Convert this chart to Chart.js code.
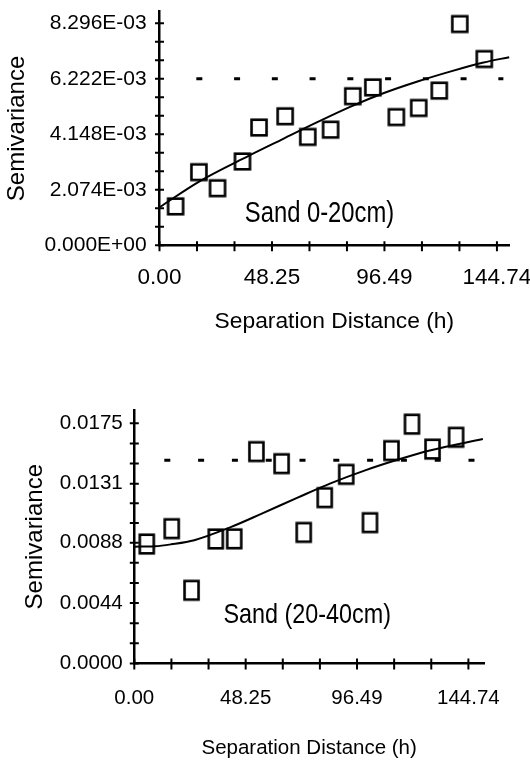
<!DOCTYPE html>
<html>
<head>
<meta charset="utf-8">
<script src="https://cdn.jsdelivr.net/npm/chart.js@4.4.1/dist/chart.umd.min.js"></script>
<style>
html, body { margin: 0; padding: 0; background: #fff; }
body { width: 530px; height: 762px; position: relative; overflow: hidden; }
canvas { position: absolute; left: 0; }
#top { top: 0; }
#bottom { top: 382px; }
</style>
</head>
<body>
<canvas id="top" width="530" height="345"></canvas>
<canvas id="bottom" width="530" height="380"></canvas>
<script>
// separation distance ticks, shared by both plots
const xTicks = [0, 48.25, 96.49, 144.74];
const xLabels = ['0.00', '48.25', '96.49', '144.74'];

// Sand 0-20cm: experimental semivariogram + fitted model + sill
const topLags = [6.9, 16.9, 24.9, 35.6, 42.7, 53.9, 63.6, 73.4, 82.9, 91.5, 101.6, 111.2, 120.0, 128.8, 139.3];
const topGamma = [0.00145, 0.00273, 0.00213, 0.00313, 0.00440, 0.00482, 0.00405, 0.00432, 0.00557, 0.00590, 0.00479, 0.00513, 0.00578, 0.00827, 0.00696];
const topModelX = [0, 17, 38, 52, 67, 82, 96, 111, 125, 139, 150];
const topModelY = [0.00142, 0.00238, 0.00333, 0.00393, 0.00457, 0.00518, 0.00568, 0.00613, 0.00650, 0.00683, 0.00703];
const topSill = [0.006222, 0.006222];
const topSillX = [15.8, 147.5];
const topYTicks = [0, 0.002074, 0.004148, 0.006222, 0.008296];
const topYLabels = ['0.000E+00', '2.074E-03', '4.148E-03', '6.222E-03', '8.296E-03'];

// Sand 20-40cm
const botLags = [5.4, 16.2, 24.8, 35.3, 43.3, 52.9, 63.8, 73.4, 82.5, 91.8, 102.1, 111.4, 120.3, 129.2, 139.4];
const botGamma = [0.00870, 0.00982, 0.00533, 0.00907, 0.00908, 0.01544, 0.01456, 0.00955, 0.01208, 0.01378, 0.01026, 0.01551, 0.01744, 0.01562, 0.01648];
const botModelX = [0, 9, 16, 26, 42, 55, 71, 85, 100, 114, 128, 151];
const botModelY = [0.00851, 0.00854, 0.00868, 0.00898, 0.00995, 0.01090, 0.01210, 0.01312, 0.01407, 0.01484, 0.01552, 0.01635];
const botSill = [0.0148, 0.0148];
const botSillX = [13.0, 148.0];
const botYTicks = [0, 0.0044, 0.0088, 0.0131, 0.0175];
const botYLabels = ['0.0000', '0.0044', '0.0088', '0.0131', '0.0175'];

const ink = '#000';
const sans = "'Liberation Sans', Arial, sans-serif";

// majors plus two minor ticks in each gap
function withMinor(majors) {
  const out = [];
  for (let i = 0; i < majors.length; i++) {
    out.push(majors[i]);
    if (i < majors.length - 1) {
      const step = (majors[i + 1] - majors[i]) / 3;
      out.push(majors[i] + step, majors[i] + 2 * step);
    }
  }
  return out;
}

function pick(values, labels) {
  return v => {
    const i = values.findIndex(t => Math.abs(t - v) < 1e-9);
    return i < 0 ? '' : labels[i];
  };
}

// open box marker
function box(w, h, lw) {
  const c = document.createElement('canvas');
  c.width = Math.ceil(w + lw + 2);
  c.height = Math.ceil(h + lw + 2);
  const g = c.getContext('2d');
  g.lineWidth = lw;
  g.strokeStyle = ink;
  g.strokeRect((c.width - w) / 2, (c.height - h) / 2, w, h);
  return c;
}

// tick marks that cross the axis line
const crossTicks = {
  id: 'crossTicks',
  afterDraw(chart, args, opts) {
    const ctx = chart.ctx;
    const xs = chart.scales.x, ys = chart.scales.y;
    const area = chart.chartArea;
    ctx.save();
    ctx.strokeStyle = ink;
    ctx.lineWidth = 2;
    ctx.beginPath();
    xs.ticks.forEach(t => {
      const p = xs.getPixelForValue(t.value);
      ctx.moveTo(p, area.bottom - opts.x[0]);
      ctx.lineTo(p, area.bottom + opts.x[1]);
    });
    ys.ticks.forEach(t => {
      const p = ys.getPixelForValue(t.value);
      ctx.moveTo(area.left - opts.y, p);
      ctx.lineTo(area.left + opts.y, p);
    });
    ctx.stroke();
    ctx.restore();
  }
};

// the sample label inside the plot, squeezed like a narrow face
const note = {
  id: 'note',
  afterDraw(chart, args, opts) {
    const ctx = chart.ctx;
    ctx.save();
    ctx.fillStyle = ink;
    ctx.font = opts.size + 'px ' + sans;
    ctx.textBaseline = 'alphabetic';
    ctx.textAlign = 'left';
    ctx.translate(chart.scales.x.getPixelForValue(opts.x), chart.scales.y.getPixelForValue(opts.y));
    ctx.scale(0.82, 1);
    ctx.fillText(opts.text, 0, 0);
    ctx.restore();
  }
};

function makeChart(id, o) {
  new Chart(document.getElementById(id), {
    type: 'scatter',
    data: {
      datasets: [{
        data: o.lags.map((x, i) => ({ x: x, y: o.gamma[i] })),
        pointStyle: box(o.box[0], o.box[1], 2.6),
        pointRadius: 10,
        showLine: false
      }, {
        data: o.modelX.map((x, i) => ({ x: x, y: o.modelY[i] })),
        showLine: true,
        borderColor: ink,
        borderWidth: 2,
        pointRadius: 0,
        cubicInterpolationMode: 'monotone'
      }, {
        data: o.sillX.map((x, i) => ({ x: x, y: o.sill[i] })),
        showLine: true,
        borderColor: ink,
        borderWidth: 3,
        borderDash: o.dash,
        borderCapStyle: 'butt',
        pointRadius: 0
      }]
    },
    options: {
      responsive: false,
      animation: false,
      events: [],
      clip: false,
      layout: { padding: { left: 0, top: o.top, right: o.right, bottom: 0 } },
      plugins: {
        legend: { display: false },
        tooltip: { enabled: false },
        crossTicks: o.cross,
        note: o.note
      },
      scales: {
        x: {
          type: 'linear',
          min: 0,
          max: o.xMax,
          afterBuildTicks: s => { s.ticks = withMinor(xTicks).map(v => ({ value: v })); },
          afterFit: s => { s.height = o.xH; s.paddingLeft = 0; s.paddingRight = 0; },
          ticks: {
            autoSkip: false, maxRotation: 0, minRotation: 0,
            padding: o.xPad, color: ink,
            font: { family: sans, size: o.xFont, lineHeight: 1 },
            callback: pick(xTicks, xLabels)
          },
          grid: { drawOnChartArea: false, drawTicks: false },
          border: { color: ink, width: 2.5 },
          title: {
            display: true, text: 'Separation Distance (h)', color: ink,
            font: { family: sans, size: o.xTitleFont, lineHeight: 1 },
            padding: { top: 0, bottom: o.xTitlePad }
          }
        },
        y: {
          type: 'linear',
          min: 0,
          max: o.yMax,
          afterBuildTicks: s => { s.ticks = withMinor(o.yTicks).map(v => ({ value: v })); },
          afterFit: s => { s.width = o.yW; s.paddingTop = 0; s.paddingBottom = 0; },
          ticks: {
            autoSkip: false, padding: o.yPad, color: ink,
            font: { family: sans, size: o.yFont, lineHeight: 1 },
            callback: pick(o.yTicks, o.yLabels)
          },
          grid: { drawOnChartArea: false, drawTicks: false },
          border: { color: ink, width: 2.5 },
          title: {
            display: true, text: 'Semivariance', color: ink,
            font: { family: sans, size: 24, lineHeight: 1 },
            padding: { top: o.yTitlePad, bottom: 0 }
          }
        }
      }
    },
    plugins: [crossTicks, note]
  });
}

makeChart('top', {
  lags: topLags, gamma: topGamma, modelX: topModelX, modelY: topModelY,
  sill: topSill, sillX: topSillX, dash: [6, 31.75],
  yTicks: topYTicks, yLabels: topYLabels,
  box: [15, 15.6],
  xMax: 150, yMax: 0.00873,
  top: 11.7, right: 20.8, xH: 99.8, yW: 159.5,
  xPad: 21.5, xFont: 22.5, xTitleFont: 22.8, xTitlePad: 11.6,
  yPad: 12.8, yFont: 21, yTitlePad: 5,
  cross: { x: [4, 6], y: 4.5 },
  note: { text: 'Sand 0-20cm)', x: 36.6, y: 0.00085, size: 29 }
});

makeChart('bottom', {
  lags: botLags, gamma: botGamma, modelX: botModelX, modelY: botModelY,
  sill: botSill, sillX: botSillX, dash: [6, 27.8],
  yTicks: botYTicks, yLabels: botYLabels,
  box: [14, 18.6],
  xMax: 151.5, yMax: 0.01847,
  top: 28, right: 46, xH: 98.6, yW: 134.3,
  xPad: 24.6, xFont: 20.5, xTitleFont: 20.5, xTitlePad: 3.25,
  yPad: 11.5, yFont: 20.6, yTitlePad: 23.4,
  cross: { x: [5, 6], y: 4.5 },
  note: { text: 'Sand (20-40cm)', x: 38.6, y: 0.00295, size: 28.5 }
});
</script>
</body>
</html>
